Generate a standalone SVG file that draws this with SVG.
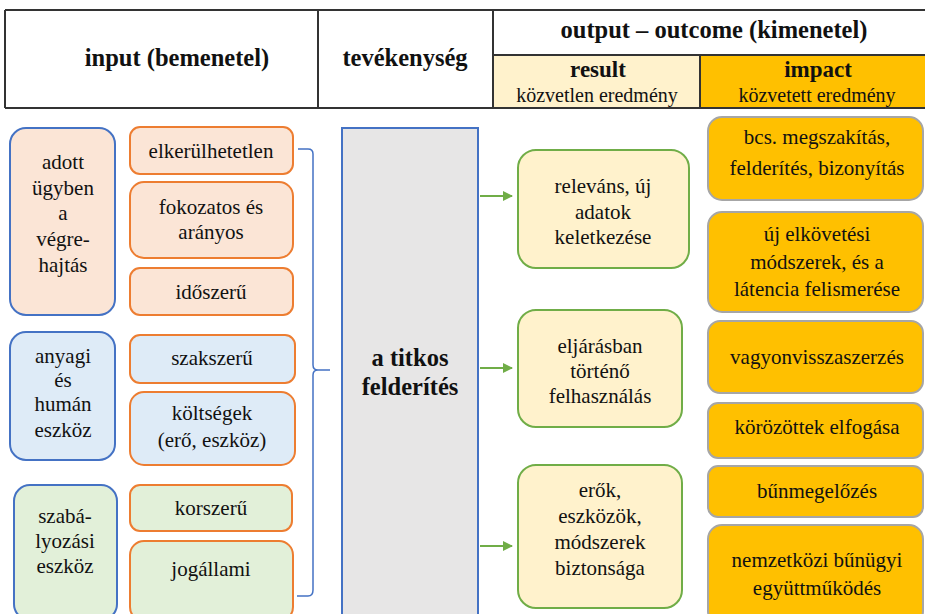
<svg xmlns="http://www.w3.org/2000/svg" width="925" height="614" viewBox="0 0 925 614">
<defs>
<style>
text{font-family:'Liberation Serif','Times New Roman',serif;fill:#111;text-anchor:middle}
.h{font-weight:bold;font-size:24.5px}
.hm{font-weight:bold;font-size:23px}
.hs{font-size:20px}
.t{font-size:21px}
.b{font-weight:bold;font-size:24.5px}
.grid{stroke:#333;stroke-width:2;fill:none}
.blue{stroke:#4472C4;stroke-width:2}
.org{stroke:#ED7D31;stroke-width:2}
.grn{stroke:#70AD47;stroke-width:2;fill:#FFF2CC}
.imp{stroke:#A6A6A6;stroke-width:2;fill:#FFC000}
.peach{fill:#FBE5D6}.lblue{fill:#DEEBF7}.lgreen{fill:#E2F0D9}
.con{stroke:#70AD47;stroke-width:2;fill:none}
</style>
<marker id="ah" markerWidth="10" markerHeight="10" refX="9" refY="5" orient="auto" markerUnits="userSpaceOnUse">
<path d="M0,0 L10,5 L0,10 z" fill="#70AD47"/>
</marker>
</defs>
<rect width="925" height="614" fill="#fff"/>
<g id="header">
<rect x="493" y="55" width="207" height="53" fill="#FFF2CC"/>
<rect x="700" y="55" width="226" height="53" fill="#FFC000"/>
<path class="grid" d="M5,10 H926 M5,108 H926 M5,10 V108 M318,10 V108 M493,10 V108 M493,55 H926 M700,55 V108"/>
<text class="h" x="177" y="66">input (bemenetel)</text>
<text class="h" x="405" y="66">tevékenység</text>
<text class="h" x="714" y="38">output – outcome (kimenetel)</text>
<text class="hm" x="598" y="77">result</text>
<text class="hs" x="597" y="102">közvetlen eredmény</text>
<text class="hm" x="818" y="77">impact</text>
<text class="hs" x="817" y="102">közvetett eredmény</text>
</g>
<g id="in-vegrehajtas">
<rect class="blue peach" x="10" y="128" width="105" height="187" rx="16"/>
<text class="t" x="63" y="169">adott</text>
<text class="t" x="63" y="195">ügyben</text>
<text class="t" x="63" y="220">a</text>
<text class="t" x="63" y="246">végre-</text>
<text class="t" x="63" y="272">hajtás</text>
</g>
<g id="in-eszkoz">
<rect class="blue lblue" x="10" y="332" width="105" height="128" rx="16"/>
<text class="t" x="63" y="363">anyagi</text>
<text class="t" x="63" y="387">és</text>
<text class="t" x="63" y="411">humán</text>
<text class="t" x="63" y="437">eszköz</text>
</g>
<g id="in-szabalyozas">
<rect class="blue lgreen" x="14" y="485" width="103" height="135" rx="16"/>
<text class="t" x="65" y="523">szabá-</text>
<text class="t" x="65" y="548">lyozási</text>
<text class="t" x="65" y="573">eszköz</text>
</g>
<g id="elkerulhetetlen">
<rect class="org peach" x="130" y="127" width="163" height="47" rx="10"/>
<text class="t" x="211" y="158">elkerülhetetlen</text>
</g>
<g id="fokozatos">
<rect class="org peach" x="130" y="182" width="163" height="76" rx="14"/>
<text class="t" x="211" y="214">fokozatos és</text>
<text class="t" x="211" y="239">arányos</text>
</g>
<g id="idoszeru">
<rect class="org peach" x="130" y="268" width="163" height="47" rx="10"/>
<text class="t" x="211" y="299">időszerű</text>
</g>
<g id="szakszeru">
<rect class="org lblue" x="130" y="335" width="165" height="48" rx="10"/>
<text class="t" x="212" y="365">szakszerű</text>
</g>
<g id="koltsegek">
<rect class="org lblue" x="130" y="392" width="165" height="73" rx="14"/>
<text class="t" x="212" y="420">költségek</text>
<text class="t" x="212" y="447">(erő, eszköz)</text>
</g>
<g id="korszeru">
<rect class="org lgreen" x="130" y="485" width="162" height="46" rx="10"/>
<text class="t" x="211" y="515">korszerű</text>
</g>
<g id="jogallami">
<rect class="org lgreen" x="130" y="541" width="163" height="80" rx="14"/>
<text class="t" x="211" y="576">jogállami</text>
</g>
<g id="felderites">
<rect class="blue" x="342" y="128" width="136" height="500" fill="#E7E6E6"/>
<text class="b" x="410" y="366">a titkos</text>
<text class="b" x="410" y="395">felderítés</text>
</g>
<g id="res1">
<rect class="grn" x="518" y="150" width="171" height="118" rx="18"/>
<text class="t" x="603" y="193">releváns, új</text>
<text class="t" x="603" y="219">adatok</text>
<text class="t" x="603" y="244">keletkezése</text>
</g>
<g id="res2">
<rect class="grn" x="518" y="310" width="164" height="117" rx="18"/>
<text class="t" x="600" y="353">eljárásban</text>
<text class="t" x="600" y="378">történő</text>
<text class="t" x="600" y="403">felhasználás</text>
</g>
<g id="res3">
<rect class="grn" x="518" y="465" width="164" height="143" rx="18"/>
<text class="t" x="600" y="497">erők,</text>
<text class="t" x="600" y="523">eszközök,</text>
<text class="t" x="600" y="549">módszerek</text>
<text class="t" x="600" y="575">biztonsága</text>
</g>
<g id="imp1">
<rect class="imp" x="708" y="117" width="215" height="83" rx="14"/>
<text class="t" x="817" y="144">bcs. megszakítás,</text>
<text class="t" x="817" y="175">felderítés, bizonyítás</text>
</g>
<g id="imp2">
<rect class="imp" x="708" y="212" width="215" height="100" rx="14"/>
<text class="t" x="817" y="241">új elkövetési</text>
<text class="t" x="817" y="269">módszerek, és a</text>
<text class="t" x="817" y="296">látencia felismerése</text>
</g>
<g id="imp3">
<rect class="imp" x="708" y="321" width="215" height="72" rx="12"/>
<text class="t" x="817" y="364">vagyonvisszaszerzés</text>
</g>
<g id="imp4">
<rect class="imp" x="708" y="403" width="215" height="55" rx="10"/>
<text class="t" x="817" y="434">körözöttek elfogása</text>
</g>
<g id="imp5">
<rect class="imp" x="708" y="466" width="215" height="51" rx="10"/>
<text class="t" x="817" y="498">bűnmegelőzés</text>
</g>
<g id="imp6">
<rect class="imp" x="708" y="525" width="215" height="100" rx="14"/>
<text class="t" x="817" y="567">nemzetközi bűnügyi</text>
<text class="t" x="817" y="595">együttműködés</text>
</g>
<g id="connectors">
<path d="M298,149 H308 Q313,149 313,154 V365 Q313,370 318,370 H330 M330,370 H318 Q313,370 313,375 V590 Q313,596 308,596 H297" fill="none" stroke="#4472C4" stroke-width="1.5"/>
<path class="con" d="M480,196 H512" marker-end="url(#ah)"/>
<path class="con" d="M480,368 H512" marker-end="url(#ah)"/>
<path class="con" d="M480,546 H512" marker-end="url(#ah)"/>
</g>
</svg>
